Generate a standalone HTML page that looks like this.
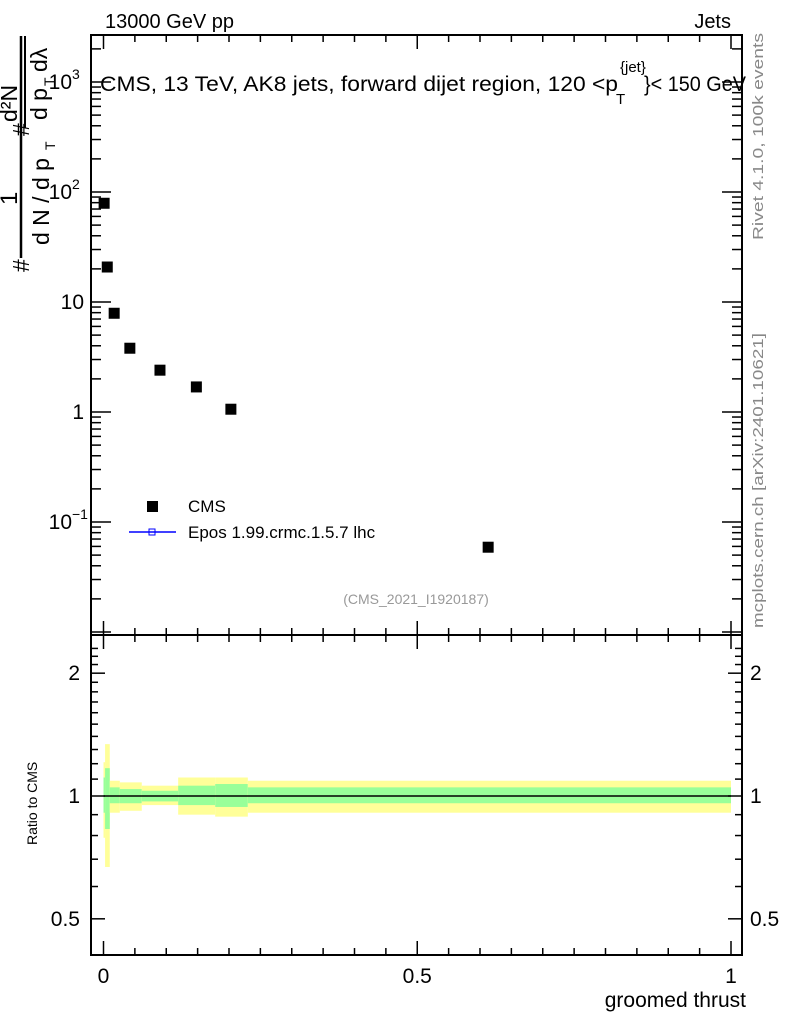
<!DOCTYPE html>
<html><head><meta charset="utf-8"><style>
body{margin:0;background:#fff}
svg{display:block;font-family:"Liberation Sans",sans-serif}
</style></head><body>
<svg id="chart" width="786" height="1024" viewBox="0 0 786 1024">
<g id="bands"></g>
<g id="main"></g>
<g id="ratio"></g>
<text x="105" y="28" font-size="20">13000 GeV pp</text>
<text x="731" y="28" font-size="20" text-anchor="end">Jets</text>
<text x="100" y="91" font-size="21" textLength="518" lengthAdjust="spacingAndGlyphs">CMS, 13 TeV, AK8 jets, forward dijet region, 120 &lt;p</text>
<text x="620" y="72" font-size="15">{jet}</text>
<text x="616" y="104" font-size="15">T</text>
<text x="644" y="91" font-size="21" textLength="102" lengthAdjust="spacingAndGlyphs">}&lt; 150 GeV</text>
<text x="0" y="0" transform="translate(763,240) rotate(-90)" font-size="15" fill="#888" textLength="207" lengthAdjust="spacingAndGlyphs">Rivet 4.1.0,  100k events</text>
<text x="0" y="0" transform="translate(763,628) rotate(-90)" font-size="15" fill="#888" textLength="295" lengthAdjust="spacingAndGlyphs">mcplots.cern.ch [arXiv:2401.10621]</text>
<text x="416" y="604" font-size="14" fill="#999" text-anchor="middle">(CMS_2021_I1920187)</text>
<g>
<rect x="147" y="501" width="11" height="11" fill="#000"/>
<text x="188" y="512" font-size="17">CMS</text>
<line x1="129" y1="532" x2="176" y2="532" stroke="#00f" stroke-width="1.5"/>
<rect x="149" y="529" width="6" height="6" fill="none" stroke="#00f"/>
<text x="188" y="538" font-size="17">Epos 1.99.crmc.1.5.7 lhc</text>
</g>
<g font-size="23">
<line x1="21" y1="36" x2="21" y2="258" stroke="#000" stroke-width="2.5"/>
<text transform="translate(17,205) rotate(-90)" font-size="24">1</text>
<text transform="translate(29,272) rotate(-90)">#</text>
<text transform="translate(49,245) rotate(-90)">d N / d p</text>
<text transform="translate(55,150) rotate(-90)" font-size="14">T</text>
<text transform="translate(29,136) rotate(-90)">#</text>
<line x1="25" y1="36" x2="25" y2="128" stroke="#000" stroke-width="2"/>
<text transform="translate(17,122) rotate(-90)">d²N</text>
<text transform="translate(47,120) rotate(-90)">d p</text>
<text transform="translate(54,86) rotate(-90)" font-size="14">T</text>
<text transform="translate(47,72) rotate(-90)">dλ</text>
</g>
<text transform="translate(37,845) rotate(-90)" font-size="14">Ratio to CMS</text>
<text x="746" y="1007" font-size="21" text-anchor="end">groomed thrust</text>
</svg>
<script>
const xVals=[0.001,0.006,0.017,0.042,0.09,0.148,0.203,0.613];
const yVals=[79,20.8,7.9,3.8,2.4,1.69,1.06,0.059];
const binEdges=[0,0.0025,0.01,0.026,0.061,0.119,0.178,0.23,1.0];
const yellowHi=[1.21,1.34,1.09,1.08,1.06,1.11,1.11,1.09];
const yellowLo=[0.79,0.67,0.91,0.92,0.95,0.90,0.89,0.91];
const greenHi=[1.11,1.17,1.05,1.04,1.03,1.06,1.07,1.05];
const greenLo=[0.91,0.83,0.96,0.96,0.97,0.95,0.94,0.96];
const xTicks=[0,0.5,1];
const xTickLabels=["0","0.5","1"];
const ratioTicks=[0.5,1,2];
const ratioTickLabels=["0.5","1","2"];
const NS="http://www.w3.org/2000/svg";
const L=91,R=742,T=35,M=635,B=955;
const X=v=>103.5+v*627.5;
const Y=v=>412-110*Math.log10(v);
const RY=v=>796-408*Math.log10(v);
function mk(p,tag,a){const e=document.createElementNS(NS,tag);for(const k in a)e.setAttribute(k,a[k]);p.appendChild(e);return e;}
const main=document.getElementById('main'),ratio=document.getElementById('ratio'),bands=document.getElementById('bands');
for(let i=0;i<yellowHi.length;i++){
 const x1=X(binEdges[i]),x2=X(binEdges[i+1]);
 const y=mk(bands,'rect',{x:x1,y:RY(yellowHi[i]),width:x2-x1,height:RY(yellowLo[i])-RY(yellowHi[i]),fill:'#ffff99'});
 
 
 const g=mk(bands,'rect',{x:x1,y:RY(greenHi[i]),width:x2-x1,height:RY(greenLo[i])-RY(greenHi[i]),fill:'#99ff99'});
 
 
}
const one=mk(ratio,'line',{x1:X(0),x2:X(1),y1:RY(1),y2:RY(1),stroke:'#000','stroke-width':1.5});


for(const [t,b,nm] of [[T,M,'main-frame'],[M,B,'ratio-frame']]){
 const f=mk(main,'rect',{x:L,y:t,width:R-L,height:b-t,fill:'none',stroke:'#000','stroke-width':2});
 
 
}
for(let k=0;k<=20;k++){
 const v=k*0.05;
 const big=k%10==0;const len=big?14:7;
 for(const [t,b] of [[T,M],[M,B]]){
  mk(main,'line',{x1:X(v),x2:X(v),y1:b,y2:b-len,stroke:'#000','stroke-width':1.5});
  mk(main,'line',{x1:X(v),x2:X(v),y1:t,y2:t+len,stroke:'#000','stroke-width':1.5});
 }
}
xTicks.forEach((v,i)=>{const t=mk(main,'text',{x:X(v),y:983,'font-size':21,'text-anchor':'middle'});t.textContent=xTickLabels[i];
 
 });
for(let d=-2;d<=3;d++)for(let m=1;m<10;m++){
 const v=m*Math.pow(10,d);const y=Y(v);if(y<T||y>M)continue;const len=m==1?20:10;
 mk(main,'line',{x1:L,x2:L+len,y1:y,y2:y,stroke:'#000','stroke-width':1.5});
 mk(main,'line',{x1:R,x2:R-len,y1:y,y2:y,stroke:'#000','stroke-width':1.5});
}
const ylabs=[[1000,'10','3'],[100,'10','2'],[10,'10',''],[1,'1',''],[0.1,'10','−1']];
ylabs.forEach(([v,b,s])=>{
 const t=mk(main,'text',{x:s?72:84,y:Y(v)+7,'font-size':21,'text-anchor':'end'});
 if(v==10){t.setAttribute('x',84);}
 t.textContent=b;
 
 
 if(s){const u=mk(main,'text',{x:72,y:Y(v)-3,'font-size':14});u.textContent=s;}
});
for(const v of [0.4,0.5,0.6,0.7,0.8,0.9,1,1.1,1.2,1.3,1.4,1.5,1.6,1.7,1.8,1.9,2,2.1,2.2,2.3]){
 const y=RY(v);if(y<M||y>B)continue;const len=[0.5,1,2].includes(v)?14:7;
 mk(ratio,'line',{x1:L,x2:L+len,y1:y,y2:y,stroke:'#000','stroke-width':1.5});
 mk(ratio,'line',{x1:R,x2:R-len,y1:y,y2:y,stroke:'#000','stroke-width':1.5});
}
ratioTicks.forEach((v,i)=>{
 for(const [x,a] of [[80,'end'],[750,'start']]){
  const t=mk(ratio,'text',{x:x,y:RY(v)+7,'font-size':21,'text-anchor':a});t.textContent=ratioTickLabels[i];
  
  
 }
});
xVals.forEach((v,i)=>{
 const r=mk(main,'rect',{x:X(v)-5.5,y:Y(yVals[i])-5.5,width:11,height:11,fill:'#000'});
 
 
});
</script>
</body></html>
